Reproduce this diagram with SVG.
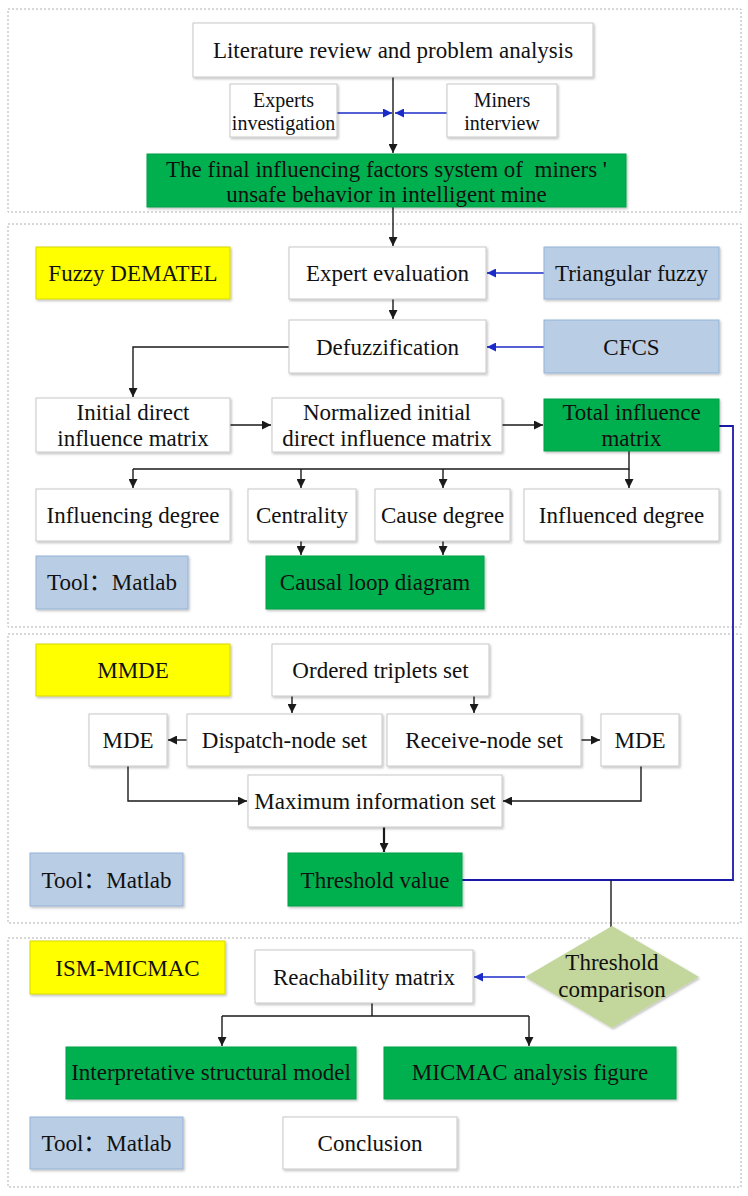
<svg xmlns="http://www.w3.org/2000/svg" width="748" height="1196" viewBox="0 0 748 1196">
<style>
text{font-family:"Liberation Serif","Noto Sans CJK SC",serif;font-size:23px;fill:#111;text-anchor:middle}
.sm{font-size:20px}
.sec{fill:none;stroke:#b0b0b0;stroke-width:1;stroke-dasharray:2,2}
.w{fill:#fff;stroke:#c8c8c8;stroke-width:1;filter:url(#sh)}
.g{fill:#00b050;stroke:#00a048;stroke-width:1;filter:url(#sh)}
.y{fill:#ffff00;stroke:#d8d800;stroke-width:1;filter:url(#sh)}
.b{fill:#b9cde5;stroke:#95b3d7;stroke-width:1;filter:url(#sh)}
.d{fill:#c3d69b;stroke:none;filter:url(#sh)}
.k{fill:none;stroke:#1a1a1a;stroke-width:1.4}
.kb{fill:none;stroke:#1a1a1a;stroke-width:2.2}
.bl{fill:none;stroke:#1a2bc8;stroke-width:1.6}
.bd{fill:none;stroke:#1a1aa8;stroke-width:1.8}
</style>
<defs>
<filter id="sh" x="-10%" y="-10%" width="125%" height="130%">
<feDropShadow dx="1.2" dy="1.5" stdDeviation="0.8" flood-color="#000" flood-opacity="0.25"/>
</filter>
<marker id="ak" markerUnits="userSpaceOnUse" markerWidth="10" markerHeight="9" refX="9" refY="4.5" orient="auto">
<path d="M0,0 L9,4.5 L0,9 z" fill="#1a1a1a"/>
</marker>
<marker id="ab" markerUnits="userSpaceOnUse" markerWidth="10" markerHeight="9" refX="9" refY="4.5" orient="auto">
<path d="M0,0 L9,4.5 L0,9 z" fill="#1a2bc8"/>
</marker>
</defs>
<rect fill="#fff" x="0" y="0" width="748" height="1196"/>
<g id="sections">
<rect class="sec" x="8" y="9" width="733" height="203"/>
<rect class="sec" x="8" y="224" width="733" height="403"/>
<rect class="sec" x="8" y="634" width="733" height="289"/>
<rect class="sec" x="8" y="938" width="733" height="249"/>
</g>
<g id="connectors">
<path class="k" d="M393,77 V153" marker-end="url(#ak)"/>
<path class="bl" d="M337,113 H392" marker-end="url(#ab)"/>
<path class="bl" d="M447,113 H395" marker-end="url(#ab)"/>
<path class="k" d="M393,207 V246" marker-end="url(#ak)"/>
<path class="bl" d="M544,273 H487" marker-end="url(#ab)"/>
<path class="k" d="M393,299 V319" marker-end="url(#ak)"/>
<path class="bl" d="M544,347 H487" marker-end="url(#ab)"/>
<path class="k" d="M289,347 H133 V397" marker-end="url(#ak)"/>
<path class="k" d="M230,425 H271" marker-end="url(#ak)"/>
<path class="k" d="M502,425 H543" marker-end="url(#ak)"/>
<path class="k" d="M629,451 V469 H133"/>
<path class="k" d="M133,469 V488" marker-end="url(#ak)"/>
<path class="k" d="M301,469 V488" marker-end="url(#ak)"/>
<path class="k" d="M443,469 V488" marker-end="url(#ak)"/>
<path class="k" d="M629,469 V488" marker-end="url(#ak)"/>
<path class="k" d="M301,541 V555" marker-end="url(#ak)"/>
<path class="k" d="M443,541 V555" marker-end="url(#ak)"/>
<path class="bd" d="M719,426 H733 V880 H462"/>
<path class="k" d="M611,880 V927"/>
<path class="k" d="M292,696 V713" marker-end="url(#ak)"/>
<path class="k" d="M474,696 V713" marker-end="url(#ak)"/>
<path class="k" d="M187,740 H168" marker-end="url(#ak)"/>
<path class="k" d="M581,740 H600" marker-end="url(#ak)"/>
<path class="k" d="M128,766 V801 H247" marker-end="url(#ak)"/>
<path class="k" d="M641,766 V801 H503" marker-end="url(#ak)"/>
<path class="kb" d="M384,827 V852" marker-end="url(#ak)"/>
<path class="bl" d="M525,977 H474" marker-end="url(#ab)"/>
<path class="k" d="M372,1003 V1016 M222,1016 H529"/>
<path class="k" d="M222,1016 V1046" marker-end="url(#ak)"/>
<path class="k" d="M529,1016 V1046" marker-end="url(#ak)"/>
</g>
<g id="n-literature"><rect class="w" x="193" y="23" width="400" height="54"/><text x="393" y="58">Literature review and problem analysis</text></g>
<g id="n-experts"><rect class="w" x="230" y="84" width="107" height="53"/><text class="sm" x="283.5" y="107">Experts</text><text class="sm" x="283.5" y="130">investigation</text></g>
<g id="n-miners"><rect class="w" x="447" y="84" width="110" height="53"/><text class="sm" x="502" y="107">Miners</text><text class="sm" x="502" y="130">interview</text></g>
<g id="n-final"><rect class="g" x="147" y="154" width="479" height="53"/><text x="386.5" y="177" xml:space="preserve">The final influencing factors system of  miners '</text><text x="386.5" y="202">unsafe behavior in intelligent mine</text></g>
<g id="n-fuzzy"><rect class="y" x="36" y="247" width="194" height="52"/><text x="133" y="281">Fuzzy DEMATEL</text></g>
<g id="n-expert"><rect class="w" x="289" y="247" width="197" height="52"/><text x="387.5" y="281">Expert evaluation</text></g>
<g id="n-triangular"><rect class="b" x="544" y="247" width="175" height="52"/><text x="631.5" y="281">Triangular fuzzy</text></g>
<g id="n-defuzz"><rect class="w" x="289" y="320" width="197" height="53"/><text x="387.5" y="355">Defuzzification</text></g>
<g id="n-cfcs"><rect class="b" x="544" y="320" width="175" height="53"/><text x="631.5" y="355">CFCS</text></g>
<g id="n-initial"><rect class="w" x="36" y="398" width="194" height="54"/><text x="133" y="420">Initial direct</text><text x="133" y="446">influence matrix</text></g>
<g id="n-normalized"><rect class="w" x="272" y="398" width="230" height="54"/><text x="387" y="420">Normalized initial</text><text x="387" y="446">direct influence matrix</text></g>
<g id="n-total"><rect class="g" x="544" y="399" width="175" height="52"/><text x="631.5" y="420">Total influence</text><text x="631.5" y="446">matrix</text></g>
<g id="n-influencing"><rect class="w" x="36" y="489" width="194" height="52"/><text x="133" y="523">Influencing degree</text></g>
<g id="n-centrality"><rect class="w" x="248" y="489" width="108" height="52"/><text x="302" y="523">Centrality</text></g>
<g id="n-cause"><rect class="w" x="375" y="489" width="135" height="52"/><text x="442.5" y="523">Cause degree</text></g>
<g id="n-influenced"><rect class="w" x="524" y="489" width="195" height="52"/><text x="621.5" y="523">Influenced degree</text></g>
<g id="n-tool1"><rect class="b" x="36" y="556" width="152" height="53"/><text x="112" y="590">Tool：Matlab</text></g>
<g id="n-causal"><rect class="g" x="266" y="556" width="218" height="53"/><text x="375" y="590">Causal loop diagram</text></g>
<g id="n-mmde"><rect class="y" x="36" y="644" width="194" height="52"/><text x="133" y="678">MMDE</text></g>
<g id="n-ordered"><rect class="w" x="272" y="644" width="217" height="52"/><text x="380.5" y="678">Ordered triplets set</text></g>
<g id="n-mdeL"><rect class="w" x="89" y="714" width="78" height="52"/><text x="128" y="748">MDE</text></g>
<g id="n-dispatch"><rect class="w" x="187" y="714" width="195" height="52"/><text x="284.5" y="748">Dispatch-node set</text></g>
<g id="n-receive"><rect class="w" x="387" y="714" width="194" height="52"/><text x="484" y="748">Receive-node set</text></g>
<g id="n-mdeR"><rect class="w" x="601" y="714" width="78" height="52"/><text x="640" y="748">MDE</text></g>
<g id="n-maxinfo"><rect class="w" x="248" y="775" width="254" height="52"/><text x="375" y="809">Maximum information set</text></g>
<g id="n-threshold"><rect class="g" x="288" y="853" width="174" height="53"/><text x="375" y="888">Threshold value</text></g>
<g id="n-tool2"><rect class="b" x="30" y="853" width="153" height="53"/><text x="106.5" y="888">Tool：Matlab</text></g>
<g id="n-comparison"><polygon class="d" points="612,926 699,977 612,1028 525,977"/><text x="612" y="970">Threshold</text><text x="612" y="997">comparison</text></g>
<g id="n-ism"><rect class="y" x="30" y="941" width="195" height="53"/><text x="127.5" y="976">ISM-MICMAC</text></g>
<g id="n-reach"><rect class="w" x="255" y="950" width="218" height="53"/><text x="364" y="985">Reachability matrix</text></g>
<g id="n-interp"><rect class="g" x="66" y="1047" width="290" height="52"/><text x="211" y="1080">Interpretative structural model</text></g>
<g id="n-micmac"><rect class="g" x="384" y="1047" width="292" height="52"/><text x="530" y="1080">MICMAC analysis figure</text></g>
<g id="n-tool3"><rect class="b" x="30" y="1117" width="153" height="52"/><text x="106.5" y="1151">Tool：Matlab</text></g>
<g id="n-conclusion"><rect class="w" x="283" y="1117" width="174" height="52"/><text x="370" y="1151">Conclusion</text></g>
</svg>
